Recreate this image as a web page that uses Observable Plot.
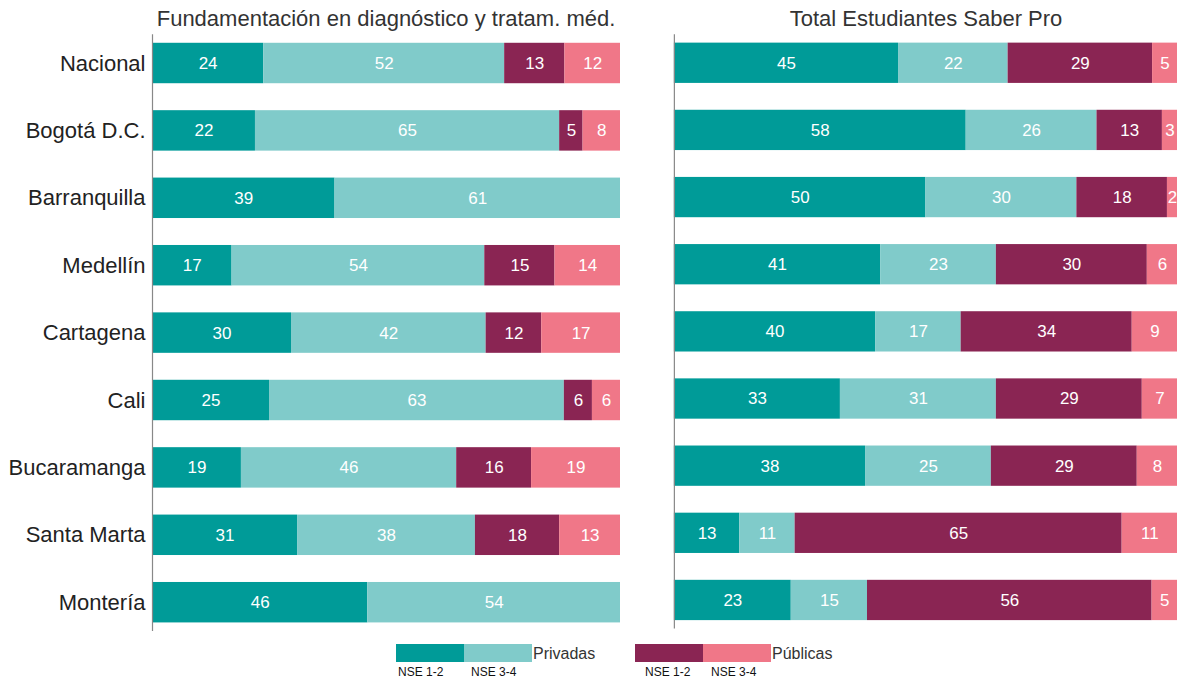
<!DOCTYPE html>
<html>
<head>
<meta charset="utf-8">
<script src="https://cdn.jsdelivr.net/npm/d3@7"></script>
<script src="https://cdn.jsdelivr.net/npm/@observablehq/plot@0.6"></script>
<style>
  html, body { margin: 0; padding: 0; background: #fff; overflow: hidden; }
  body { width: 1177px; height: 681px; position: relative; font-family: "Liberation Sans", Arial, sans-serif; }
  .abs { position: absolute; }
  .title { font-size: 22px; color: #333; white-space: nowrap; transform: translateX(-50%); top: 6px; }
  .sw { position: absolute; height: 18px; width: 68px; top: 644px; }
  .lg { position: absolute; font-size: 16px; color: #333; top: 645px; }
  .sub { position: absolute; font-size: 12px; color: #111; top: 665px; }
</style>
</head>
<body>
<div id="left" class="abs" style="left:0;top:0"></div>
<div id="right" class="abs" style="left:640px;top:0"></div>
<div class="abs title" style="left:386px">Fundamentación en diagnóstico y tratam. méd.</div>
<div class="abs title" style="left:926px">Total Estudiantes Saber Pro</div>
<div id="legend"></div>
<script>
const cities = ["Nacional", "Bogotá D.C.", "Barranquilla", "Medellín", "Cartagena", "Cali", "Bucaramanga", "Santa Marta", "Montería"];
const groups = ["Privadas NSE 1-2", "Privadas NSE 3-4", "Públicas NSE 1-2", "Públicas NSE 3-4"];
const colors = ["#009b98", "#80cbca", "#8a2553", "#f07788"];

// Fundamentación en diagnóstico y tratam. méd.
const fundPriv12 = [24, 22, 39, 17, 30, 25, 19, 31, 46];
const fundPriv34 = [52, 65, 61, 54, 42, 63, 46, 38, 54];
const fundPub12  = [13, 5, 0, 15, 12, 6, 16, 18, 0];
const fundPub34  = [12, 8, 0, 14, 17, 6, 19, 13, 0];

// Total Estudiantes Saber Pro
const totPriv12 = [45, 58, 50, 41, 40, 33, 38, 13, 23];
const totPriv34 = [22, 26, 30, 23, 17, 31, 25, 11, 15];
const totPub12  = [29, 13, 18, 30, 34, 29, 29, 65, 56];
const totPub34  = [5, 3, 2, 6, 9, 7, 8, 11, 5];

function table(series) {
  const rows = [];
  cities.forEach((c, i) => {
    series.forEach((s, g) => {
      if (s[i] > 0) rows.push({city: c, group: groups[g], value: s[i]});
    });
  });
  return rows;
}

const fundData = table([fundPriv12, fundPriv34, fundPub12, fundPub34]);
const totData = table([totPriv12, totPriv34, totPub12, totPub34]);

const bandH = 9 * 67.4;
const bandTop = 63 - 33.7;
const svgH = 640;

function chart(data, {width, marginLeft, marginRight, showY}) {
  const stackOpts = {x: "value", y: "city", z: "group", offset: "normalize"};
  return Plot.plot({
    width,
    height: svgH,
    marginTop: bandTop,
    marginBottom: svgH - (bandTop + bandH),
    marginLeft,
    marginRight,
    style: {fontFamily: "Liberation Sans, Arial, sans-serif", color: "#222", background: "transparent", overflow: "visible"},
    x: {domain: [0, 1], axis: null},
    y: {domain: cities, paddingInner: 0.4, paddingOuter: 0.2, round: false, axis: null, label: null},
    color: {domain: groups, range: colors},
    marks: [
      Plot.barX(data, Plot.stackX({...stackOpts, fill: "group"})),
      Plot.text(data, Plot.stackX({...stackOpts, text: "value", fill: "white", fontSize: 17})),
      Plot.ruleX([0], {stroke: "#888", strokeWidth: 1.2, insetTop: 5, insetBottom: 5}),
      ...(showY ? [Plot.axisY({tickSize: 0, tickPadding: 7, fontSize: 22, textAnchor: "end", label: null})] : [])
    ]
  });
}

document.getElementById("left").append(chart(fundData, {width: 640, marginLeft: 152, marginRight: 20, showY: true}));
document.getElementById("right").append(chart(totData, {width: 539, marginLeft: 34, marginRight: 0, showY: false}));

// Legend
const legend = document.getElementById("legend");
const items = [
  {x: 396, c: colors[0]}, {x: 464, c: colors[1]}, {x: 635, c: colors[2]}, {x: 703, c: colors[3]}
];
items.forEach(it => {
  const d = document.createElement("div");
  d.className = "sw"; d.style.left = it.x + "px"; d.style.background = it.c;
  legend.append(d);
});
const texts = [
  {x: 533, t: "Privadas", cls: "lg"}, {x: 772, t: "Públicas", cls: "lg"},
  {x: 398, t: "NSE 1-2", cls: "sub"}, {x: 471, t: "NSE 3-4", cls: "sub"},
  {x: 645, t: "NSE 1-2", cls: "sub"}, {x: 711, t: "NSE 3-4", cls: "sub"}
];
texts.forEach(it => {
  const d = document.createElement("div");
  d.className = it.cls; d.style.left = it.x + "px"; d.textContent = it.t;
  legend.append(d);
});
</script>
</body>
</html>
